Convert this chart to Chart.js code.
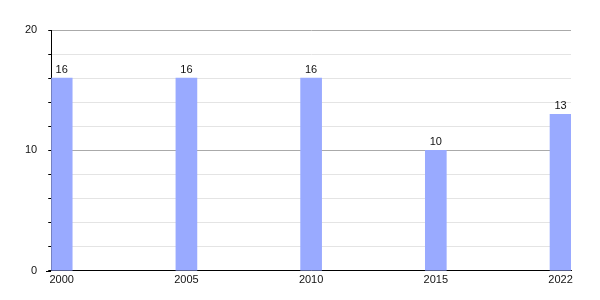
<!DOCTYPE html>
<html>
<head>
<meta charset="utf-8">
<script src="https://cdn.jsdelivr.net/npm/chart.js@4.4.0/dist/chart.umd.min.js"></script>
<style>
html,body{margin:0;padding:0;background:#fff;}
#wrap{width:600px;height:300px;}
</style>
</head>
<body>
<div id="wrap"><canvas id="c" width="600" height="300"></canvas></div>
<script>
const categories = ["2000", "2005", "2010", "2015", "2022"];
const values = [16, 16, 16, 10, 13];
const yTickLabels = [0, 10, 20];

const FONT = "'Liberation Sans', Arial, sans-serif";

const valueLabels = {
  id: 'valueLabels',
  afterDatasetsDraw(chart) {
    const ctx = chart.ctx;
    const meta = chart.getDatasetMeta(0);
    ctx.save();
    ctx.font = "11px " + FONT;
    ctx.fillStyle = "#111";
    ctx.textAlign = "center";
    ctx.textBaseline = "bottom";
    meta.data.forEach((bar, i) => {
      ctx.fillText(String(values[i]), bar.x, bar.y - 3);
    });
    ctx.restore();
  }
};

const axisExtras = {
  id: 'axisExtras',
  afterDraw(chart) {
    const ctx = chart.ctx;
    const a = chart.chartArea;
    ctx.save();
    ctx.strokeStyle = "#000";
    ctx.lineWidth = 1;
    ctx.beginPath();
    ctx.moveTo(Math.round(a.left) - 5, Math.round(a.bottom) + 0.5);
    ctx.lineTo(Math.round(a.left), Math.round(a.bottom) + 0.5);
    ctx.stroke();
    ctx.restore();
  }
};

new Chart(document.getElementById('c'), {
  type: 'bar',
  data: {
    datasets: [{
      data: values.map((v, i) => ({x: i, y: v})),
      backgroundColor: '#99aaff',
      borderWidth: 0,
      barThickness: 21
    }]
  },
  options: {
    responsive: false,
    animation: false,
    events: [],
    layout: {padding: {left: 14, right: 29, top: 30, bottom: 10}},
    plugins: {legend: {display: false}, tooltip: {enabled: false}},
    scales: {
      x: {
        type: 'linear',
        offset: false,
        min: -0.084,
        max: 4.084,
        afterBuildTicks(scale) {
          scale.ticks = categories.map((c, i) => ({value: i}));
        },
        grid: {display: false, drawTicks: false},
        border: {display: true, color: '#000', width: 1},
        ticks: {
          callback: (v) => categories[v],
          font: {family: FONT, size: 11},
          color: '#111',
          padding: 3,
          maxRotation: 0,
          autoSkip: false
        }
      },
      y: {
        min: 0,
        max: 20,
        grid: {
          color: (ctx) => (ctx.tick && ctx.tick.value % 10 === 0) ? '#aaaaaa' : '#e4e4e4',
          tickColor: '#000',
          tickLength: 3,
          drawTicks: true
        },
        border: {display: true, color: '#000', width: 1},
        ticks: {
          stepSize: 2,
          callback: (v) => yTickLabels.includes(v) ? String(v) : '',
          font: {family: FONT, size: 11},
          color: '#111',
          padding: 11,
          autoSkip: false
        }
      }
    }
  },
  plugins: [valueLabels, axisExtras]
});
</script>
</body>
</html>
